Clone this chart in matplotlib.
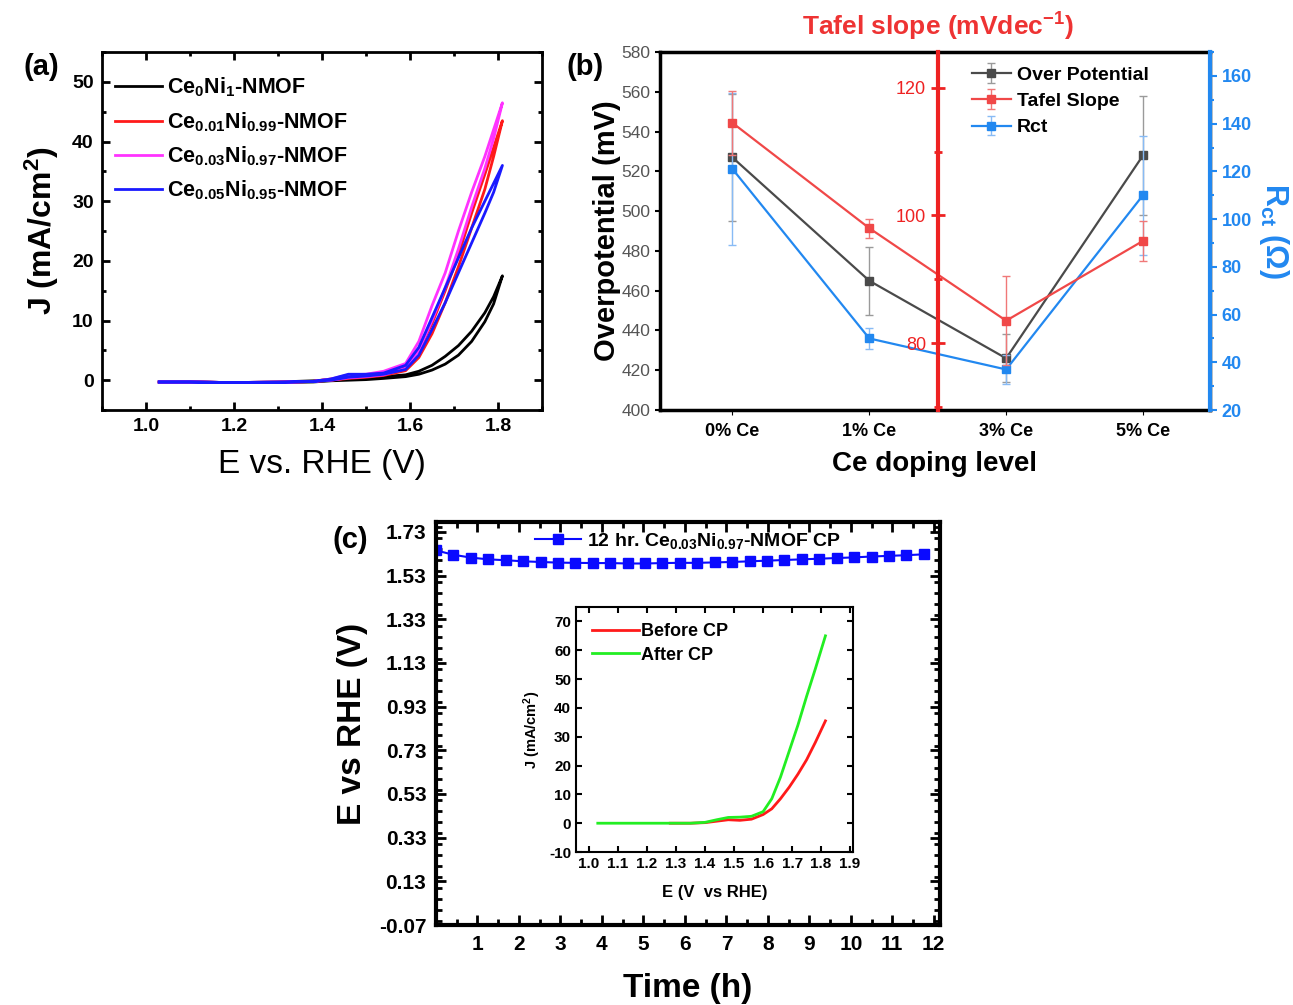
import numpy as np
import matplotlib
matplotlib.use("Agg")
import matplotlib.pyplot as plt
from matplotlib.ticker import MultipleLocator

plt.rcParams['font.family'] = ['Liberation Sans', 'DejaVu Sans']
plt.rcParams['font.weight'] = 'bold'
plt.rcParams['axes.labelweight'] = 'bold'
plt.rcParams['axes.unicode_minus'] = False
plt.rcParams['mathtext.fontset'] = 'custom'
plt.rcParams['mathtext.rm'] = 'Liberation Sans:bold'
plt.rcParams['mathtext.bf'] = 'Liberation Sans:bold'
plt.rcParams['mathtext.it'] = 'Liberation Sans:bold'
plt.rcParams['mathtext.default'] = 'bf'

# ---------------- panel (a) data: CV loops (forward / backward) ----------------
E_fwd = [1.03, 1.10, 1.20, 1.30, 1.38, 1.42, 1.46, 1.50, 1.54, 1.59, 1.62, 1.65, 1.68, 1.71, 1.74, 1.77, 1.79, 1.81]
E_bwd = E_fwd[::-1]

J_black_fwd = [-0.3, -0.3, -0.4, -0.4, -0.3, -0.1, 0.0, 0.1, 0.3, 0.6, 1.0, 1.7, 2.7, 4.2, 6.5, 9.8, 12.8, 17.5]
J_black_bwd = [17.5, 14.0, 11.3, 8.2, 5.8, 4.0, 2.5, 1.5, 0.9, 0.6, 0.4, 0.3, 0.1, -0.1, -0.3, -0.4, -0.3, -0.3]
J_red_fwd = [-0.3, -0.3, -0.4, -0.4, -0.2, 0.0, 0.3, 0.5, 0.8, 1.6, 3.8, 7.8, 13.0, 19.0, 25.5, 32.0, 37.5, 43.5]
J_red_bwd = [43.5, 39.0, 34.5, 28.0, 21.0, 15.0, 9.5, 5.0, 2.3, 1.2, 0.8, 0.6, 0.2, -0.2, -0.3, -0.4, -0.3, -0.3]
J_mag_fwd = [-0.3, -0.3, -0.4, -0.4, -0.2, 0.0, 0.4, 0.6, 0.9, 2.0, 5.0, 10.0, 15.5, 22.0, 29.0, 35.5, 40.5, 46.5]
J_mag_bwd = [46.5, 42.0, 37.5, 31.5, 25.0, 18.0, 12.5, 6.5, 2.8, 1.5, 1.0, 0.9, 0.2, -0.2, -0.3, -0.4, -0.3, -0.3]
J_blue_fwd = [-0.3, -0.3, -0.4, -0.4, -0.2, 0.0, 0.5, 0.7, 1.0, 1.8, 4.2, 8.5, 13.0, 18.0, 23.0, 28.0, 31.5, 36.0]
J_blue_bwd = [36.0, 33.0, 30.0, 25.5, 20.5, 15.5, 10.5, 5.5, 2.5, 1.2, 1.0, 1.0, 0.2, -0.2, -0.3, -0.4, -0.3, -0.3]

labels_a = [r"Ce$_{0}$Ni$_{1}$-NMOF", r"Ce$_{0.01}$Ni$_{0.99}$-NMOF",
            r"Ce$_{0.03}$Ni$_{0.97}$-NMOF", r"Ce$_{0.05}$Ni$_{0.95}$-NMOF"]

# ---------------- panel (b) data ----------------
doping = ["0% Ce", "1% Ce", "3% Ce", "5% Ce"]
overpot = [527, 465, 426, 528]
overpot_err = [32, 17, 12, 30]
tafel = [114.5, 98.0, 83.5, 96.0]
tafel_err = [5.0, 1.5, 7.0, 3.2]
rct = [121, 50, 37, 110]
rct_err = [32, 4.5, 6, 25]

# ---------------- panel (c) data ----------------
cp_time = [0.0, 0.42, 0.84, 1.26, 1.68, 2.10, 2.52, 2.94, 3.36, 3.78, 4.20, 4.62, 5.04, 5.46, 5.88,
           6.30, 6.72, 7.14, 7.56, 7.98, 8.40, 8.82, 9.24, 9.66, 10.08, 10.50, 10.92, 11.34, 11.76]
cp_E = [1.645, 1.625, 1.612, 1.604, 1.600, 1.595, 1.592, 1.589, 1.588, 1.587, 1.587, 1.585, 1.585,
        1.587, 1.588, 1.588, 1.590, 1.592, 1.595, 1.598, 1.601, 1.604, 1.607, 1.610, 1.613, 1.617,
        1.620, 1.623, 1.627]

E_before = [1.28, 1.35, 1.40, 1.44, 1.48, 1.52, 1.56, 1.60, 1.63, 1.66, 1.69, 1.72, 1.75, 1.78, 1.815]
J_before = [0.0, 0.0, 0.2, 0.7, 1.2, 1.0, 1.4, 3.0, 5.0, 8.5, 12.5, 17.0, 22.0, 28.0, 35.5]
E_after = [1.03, 1.15, 1.25, 1.35, 1.40, 1.44, 1.48, 1.52, 1.56, 1.60, 1.63, 1.66, 1.69, 1.72, 1.75, 1.78, 1.815]
J_after = [0.0, 0.0, 0.0, 0.0, 0.3, 1.2, 2.0, 2.1, 2.4, 4.0, 8.5, 16.0, 25.0, 34.0, 44.0, 53.5, 65.0]

fig = plt.figure(figsize=(12.93, 10.05), dpi=100)

# =============== (a) ===============
ax = fig.add_axes([0.0789, 0.592, 0.3403, 0.3562])
cols_a = ['black', '#ff1a1a', '#ff33ff', '#1a1aff']
fwd = [J_black_fwd, J_red_fwd, J_mag_fwd, J_blue_fwd]
bwd = [J_black_bwd, J_red_bwd, J_mag_bwd, J_blue_bwd]
for col, jf, jb, lab in zip(cols_a, fwd, bwd, labels_a):
    ax.plot(E_fwd + E_bwd, jf + jb, color=col, lw=2, label=lab)
ax.set_xlim(0.9, 1.9)
ax.set_ylim(-5, 55)
ax.xaxis.set_major_locator(MultipleLocator(0.2))
ax.xaxis.set_minor_locator(MultipleLocator(0.1))
ax.yaxis.set_minor_locator(MultipleLocator(5))
ax.set_yticks([0, 10, 20, 30, 40, 50])
ax.tick_params(which='both', direction='in', top=True, right=True, labelsize=14, width=2)
ax.tick_params(which='major', length=6, pad=6)
ax.tick_params(which='minor', length=3)
for s in ax.spines.values():
    s.set_linewidth(2)
ax.set_xlabel("E vs. RHE (V)", fontsize=24, fontweight='normal', labelpad=10)
ax.set_ylabel(r"J (mA/cm$^{2}$)", fontsize=23, labelpad=8)
ax.legend(loc='upper left', frameon=False, fontsize=15.5, handlelength=2.2,
          handletextpad=0.2, borderaxespad=0.2, labelspacing=0.5,
          bbox_to_anchor=(0.0, 0.97))
fig.text(0.018, 0.925, "(a)", fontsize=21, fontweight='bold')

# =============== (b) ===============
b1 = fig.add_axes([0.5104, 0.592, 0.4254, 0.3562])
xb = np.arange(len(doping))
grey = '#4a4a4a'
red = '#f04848'
blue = '#2288f0'
b1.errorbar(xb, overpot, yerr=overpot_err, color=grey, marker='s', ms=6, lw=1.6,
            ecolor='#9a9a9a', elinewidth=1, capsize=3, label='Over Potential')
b1.set_xlim(-0.53, 3.49)
b1.set_ylim(400, 580)
b1.yaxis.set_major_locator(MultipleLocator(20))
b1.set_xticks(xb)
b1.set_xticklabels(doping, fontsize=13, fontweight='bold')
b1.tick_params(axis='x', pad=6)
b1.tick_params(axis='y', labelsize=12.5, labelcolor='#555555', direction='out', width=1.5)
for t in b1.get_yticklabels():
    t.set_fontweight('normal')
b1.set_ylabel("Overpotential (mV)", fontsize=21, labelpad=0)
b1.set_xlabel("Ce doping level", fontsize=20, labelpad=8)
for s in b1.spines.values():
    s.set_linewidth(2.5)

b2 = b1.twinx()
b2.errorbar(xb, rct, yerr=rct_err, color=blue, marker='s', ms=6, lw=1.6,
            ecolor='#88bbf5', elinewidth=1, capsize=3, label='Rct')
b2.set_ylim(20, 170)
b2.yaxis.set_major_locator(MultipleLocator(20))
b2.yaxis.set_minor_locator(MultipleLocator(10))
b2.tick_params(axis='y', which='both', colors=blue, labelsize=13, direction='out', width=1.5)
b2.tick_params(axis='y', which='major', length=5)
b2.tick_params(axis='y', which='minor', length=3)
for s in ['top', 'bottom', 'left']:
    b2.spines[s].set_visible(False)
b2.spines['right'].set_color(blue)
b2.spines['right'].set_linewidth(3)
b2.set_ylabel(r"R$_{ct}$ ($\Omega$)", color=blue, fontsize=22, rotation=270, labelpad=28)

b3 = b1.twinx()
b3.errorbar(xb, tafel, yerr=tafel_err, color=red, marker='s', ms=6, lw=1.6,
            ecolor='#f07878', elinewidth=1, capsize=3, label='Tafel Slope')
b3.set_ylim(69.5, 125.6)
for s in ['top', 'bottom', 'right']:
    b3.spines[s].set_visible(False)
b3.spines['left'].set_visible(True)
b3.spines['left'].set_position(('data', 1.5))
b3.spines['left'].set_color('#ee2222')
b3.spines['left'].set_linewidth(3)
b3.yaxis.set_ticks_position('left')
b3.set_yticks([80, 100, 120])
b3.yaxis.set_minor_locator(MultipleLocator(10))
b3.tick_params(axis='y', which='both', colors='#ee2222', direction='inout', width=2, labelsize=13)
b3.tick_params(axis='y', which='major', length=10)
b3.tick_params(axis='y', which='minor', length=6)
for t in b3.get_yticklabels():
    t.set_fontweight('normal')
b1.text(1.5, 1.025, r"Tafel slope (mVdec$^{-1}$)", transform=b1.get_xaxis_transform(),
        color='#ee3333', fontsize=19, ha='center', va='bottom')

h1, l1 = b1.get_legend_handles_labels()
h2, l2 = b2.get_legend_handles_labels()
h3, l3 = b3.get_legend_handles_labels()
b3.legend(h1 + h3 + h2, l1 + l3 + l2, loc='upper right', frameon=False, fontsize=14,
          handlelength=2.0, labelspacing=0.45, handletextpad=0.3,
          bbox_to_anchor=(0.92, 1.01))
fig.text(0.438, 0.925, "(b)", fontsize=21, fontweight='bold')

# =============== (c) ===============
c1 = fig.add_axes([0.3372, 0.0796, 0.3898, 0.401])
c1.plot(cp_time, cp_E, color='#0a0aff', marker='s', ms=7, lw=1.5,
        label=r"12 hr. Ce$_{0.03}$Ni$_{0.97}$-NMOF CP")
c1.set_xlim(0, 12.15)
c1.set_ylim(-0.07, 1.775)
c1.set_xticks(np.arange(1, 13))
c1.set_yticks([-0.07, 0.13, 0.33, 0.53, 0.73, 0.93, 1.13, 1.33, 1.53, 1.73])
c1.yaxis.set_minor_locator(MultipleLocator(0.05))
c1.xaxis.set_minor_locator(MultipleLocator(0.5))
c1.tick_params(which='both', direction='in', top=True, right=True, labelsize=15, width=2)
c1.tick_params(which='major', length=7, pad=7)
c1.tick_params(which='minor', length=4)
for s in c1.spines.values():
    s.set_linewidth(3)
c1.set_xlabel("Time (h)", fontsize=24, labelpad=14)
c1.set_ylabel("E vs RHE (V)", fontsize=24, labelpad=8)
c1.legend(loc='upper center', frameon=False, fontsize=14, handlelength=2.4,
          borderaxespad=0.05, handletextpad=0.3)
fig.text(0.257, 0.455, "(c)", fontsize=21, fontweight='bold')

ins = fig.add_axes([0.4455, 0.1522, 0.2142, 0.2438])
ins.plot(E_before, J_before, color='#ff1a1a', lw=2, label='Before CP')
ins.plot(E_after, J_after, color='#22ee22', lw=2, label='After CP')
ins.set_xlim(0.955, 1.91)
ins.set_ylim(-10, 75)
ins.xaxis.set_major_locator(MultipleLocator(0.1))
ins.set_yticks(np.arange(-10, 71, 10))
ins.tick_params(which='both', direction='in', top=True, right=True, labelsize=11, width=1.5, length=4)
for s in ins.spines.values():
    s.set_linewidth(1.5)
ins.set_xlabel("E (V  vs RHE)", fontsize=12, labelpad=10)
ins.set_ylabel(r"J (mA/cm$^{2}$)", fontsize=10.5, labelpad=4)
ins.legend(loc='upper left', frameon=False, fontsize=13, handlelength=2.6,
           borderaxespad=0.5, labelspacing=0.35, handletextpad=0.1)

fig.savefig("out.png", dpi=100)
